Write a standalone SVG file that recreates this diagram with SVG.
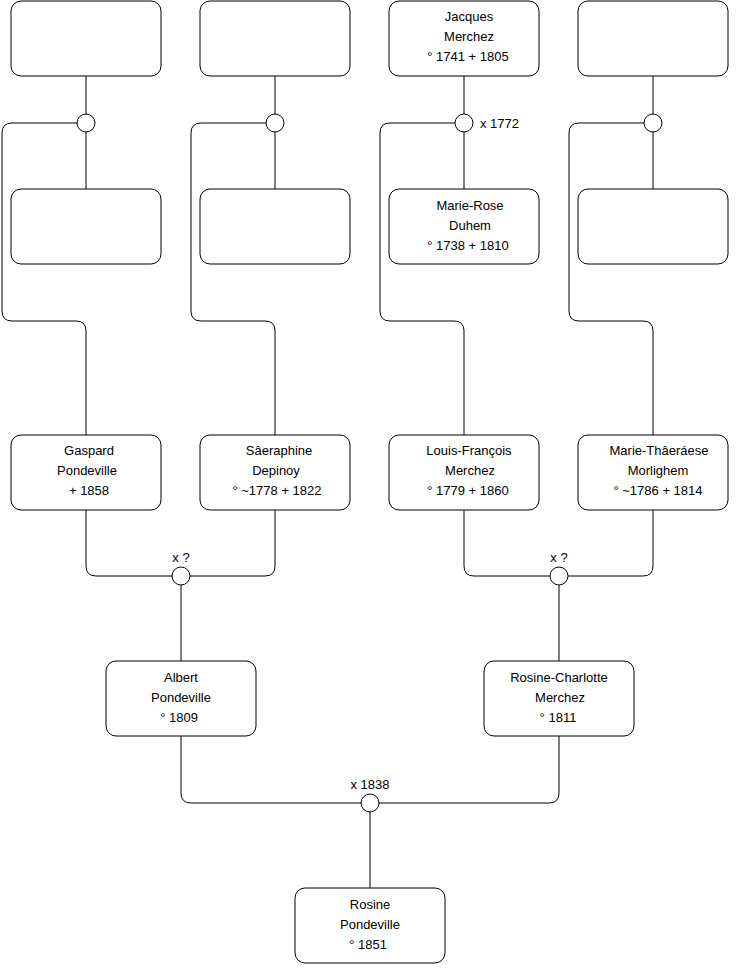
<svg xmlns="http://www.w3.org/2000/svg" width="740" height="975" viewBox="0 0 740 975">
<style>
.box{fill:#fff;stroke:#000;stroke-width:1}
.ln{fill:none;stroke:#000;stroke-width:1}
.dot{fill:#fff;stroke:#000;stroke-width:1}
text{font-family:"Liberation Sans",Arial,sans-serif;font-size:13px;fill:#000;text-anchor:middle}
.l{text-anchor:start}
</style>
<rect width="740" height="975" fill="#fff"/>
<g id="connectors">
<path class="ln" d="M86,76V189"/>
<path class="ln" d="M275,76V189"/>
<path class="ln" d="M464,76V189"/>
<path class="ln" d="M653,76V189"/>
<path class="ln" d="M86,123H12Q2,123 2,133V311Q2,321 12,321H76Q86,321 86,331V435"/>
<path class="ln" d="M275,123H201Q191,123 191,133V311Q191,321 201,321H265Q275,321 275,331V435"/>
<path class="ln" d="M464,123H390Q380,123 380,133V311Q380,321 390,321H454Q464,321 464,331V435"/>
<path class="ln" d="M653,123H579Q569,123 569,133V311Q569,321 579,321H643Q653,321 653,331V435"/>
<path class="ln" d="M86,510V566Q86,576 96,576H265Q275,576 275,566V510"/>
<path class="ln" d="M181,576V661"/>
<path class="ln" d="M464,510V566Q464,576 474,576H643Q653,576 653,566V510"/>
<path class="ln" d="M559,576V661"/>
<path class="ln" d="M181,736V793Q181,803 191,803H549Q559,803 559,793V736"/>
<path class="ln" d="M370,803V888"/>
<circle class="dot" cx="86" cy="123" r="9"/>
<circle class="dot" cx="275" cy="123" r="9"/>
<circle class="dot" cx="464" cy="123" r="9"/>
<circle class="dot" cx="653" cy="123" r="9"/>
<circle class="dot" cx="181" cy="576" r="9"/>
<circle class="dot" cx="559" cy="576" r="9"/>
<circle class="dot" cx="370" cy="803" r="9"/>
<text class="l" x="480" y="128">x 1772</text>
<text x="181" y="562">x ?</text>
<text x="559" y="562">x ?</text>
<text x="370" y="789">x 1838</text>
</g>
<g id="n1"><rect class="box" x="11" y="1" width="150" height="75" rx="10"/></g>
<g id="n2"><rect class="box" x="200" y="1" width="150" height="75" rx="10"/></g>
<g id="n3"><rect class="box" x="389" y="1" width="150" height="75" rx="10"/>
<text x="469" y="21">Jacques</text><text x="469" y="41">Merchez</text><text x="468" y="61">° 1741 + 1805</text></g>
<g id="n4"><rect class="box" x="578" y="1" width="150" height="75" rx="10"/></g>
<g id="n5"><rect class="box" x="11" y="189" width="150" height="75" rx="10"/></g>
<g id="n6"><rect class="box" x="200" y="189" width="150" height="75" rx="10"/></g>
<g id="n7"><rect class="box" x="389" y="189" width="150" height="75" rx="10"/>
<text x="470" y="210">Marie-Rose</text><text x="470" y="230">Duhem</text><text x="468" y="250">° 1738 + 1810</text></g>
<g id="n8"><rect class="box" x="578" y="189" width="150" height="75" rx="10"/></g>
<g id="n9"><rect class="box" x="11" y="435" width="150" height="75" rx="10"/>
<text x="89" y="455">Gaspard</text><text x="87" y="475">Pondeville</text><text x="89" y="495">+ 1858</text></g>
<g id="n10"><rect class="box" x="200" y="435" width="150" height="75" rx="10"/>
<text x="279" y="455">Sâeraphine</text><text x="276" y="475">Depinoy</text><text x="277" y="495">° ~1778 + 1822</text></g>
<g id="n11"><rect class="box" x="389" y="435" width="150" height="75" rx="10"/>
<text x="469" y="455">Louis-François</text><text x="470" y="475">Merchez</text><text x="468" y="495">° 1779 + 1860</text></g>
<g id="n12"><rect class="box" x="578" y="435" width="150" height="75" rx="10"/>
<text x="659" y="455">Marie-Thâeráese</text><text x="658" y="475">Morlighem</text><text x="658" y="495">° ~1786 + 1814</text></g>
<g id="n13"><rect class="box" x="106" y="661" width="150" height="75" rx="10"/>
<text x="181" y="682">Albert</text><text x="181" y="702">Pondeville</text><text x="179" y="722">° 1809</text></g>
<g id="n14"><rect class="box" x="484" y="661" width="150" height="75" rx="10"/>
<text x="559" y="682">Rosine-Charlotte</text><text x="560" y="702">Merchez</text><text x="558" y="722">° 1811</text></g>
<g id="n15"><rect class="box" x="295" y="888" width="150" height="75" rx="10"/>
<text x="370" y="909">Rosine</text><text x="370" y="929">Pondeville</text><text x="368" y="949">° 1851</text></g>
</svg>
